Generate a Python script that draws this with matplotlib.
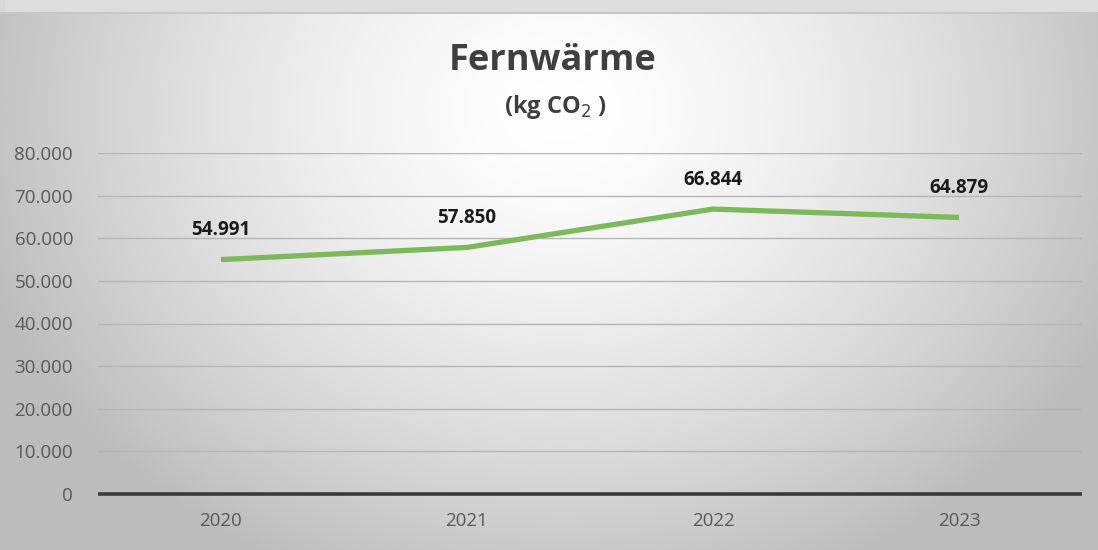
import numpy as np
import matplotlib
matplotlib.use("Agg")
import matplotlib.pyplot as plt
from matplotlib.ticker import FuncFormatter

years = ["2020", "2021", "2022", "2023"]
emissions = [54991, 57850, 66844, 64879]
y_ticks = [0, 10000, 20000, 30000, 40000, 50000, 60000, 70000, 80000]

plt.rcParams["font.family"] = ["Open Sans", "DejaVu Sans"]

W, H = 1098, 550
fig = plt.figure(figsize=(W / 100, H / 100), dpi=100)

# radial grey background
bg = fig.add_axes([0, 0, 1, 1], zorder=-10)
yy, xx = np.mgrid[0:H, 0:W]
cx, cy = 560, 110
r = np.sqrt(((xx - cx) / 620) ** 2 + ((yy - cy) / 520) ** 2)
shade = np.clip(1.0 - 0.27 * r ** 1.5, 0.74, 1.0)
img = np.dstack([shade] * 3)
img[:12, :, :] = 0.87
img[12:14, :, :] = 0.78
img[:, :5, :] = np.minimum(img[:, :5, :], 0.85)
bg.imshow(img, extent=[0, W, H, 0], aspect="auto", interpolation="bilinear")
bg.set_xlim(0, W)
bg.set_ylim(H, 0)
bg.axis("off")

ax = fig.add_axes([98 / W, 1 - 494 / H, (1082 - 98) / W, (494 - 153) / H])
ax.patch.set_alpha(0)
x = np.arange(len(years))
ax.plot(x, emissions, color="#7cb95a", lw=3.8, solid_capstyle="butt", zorder=3)
for xi, v in zip(x, emissions):
    ax.annotate(f"{v:,}".replace(",", "."), (xi, v), xytext=(0, 14),
                textcoords="offset points", ha="center", va="bottom",
                fontsize=13.5, fontweight="bold", color="#1a1a1a")

ax.set_xlim(-0.5, 3.5)
ax.set_ylim(0, 80000)
ax.set_yticks(y_ticks)
ax.yaxis.set_major_formatter(FuncFormatter(lambda v, p: f"{int(v):,}".replace(",", ".")))
ax.set_xticks(x)
ax.set_xticklabels(years)
ax.grid(axis="y", color="#b5b5b5", lw=1.0)
ax.axhline(0, color="#3a3a3a", lw=2.6, zorder=4, clip_on=False,
           solid_capstyle="butt")
for s in ax.spines.values():
    s.set_visible(False)
ax.tick_params(length=0, labelsize=13.5, colors="#595959", pad=18)
ax.tick_params(axis="x", pad=13)

fig.text(553 / W, 1 - 61 / H, "Fernwärme", ha="center", va="center",
         fontsize=26, fontweight="bold", color="#3f3f3f")
fig.text(555 / W, 1 - 107 / H, "(kg CO$_2$ )", ha="center", va="center",
         fontsize=17, fontweight="bold", color="#3f3f3f")

fig.savefig("out.png", dpi=100)
